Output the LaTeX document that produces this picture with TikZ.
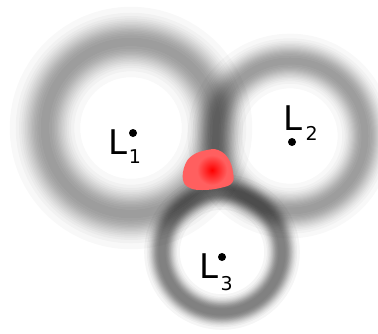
\documentclass[tikz,border=0pt]{standalone}
\usepackage{fontspec}
\setmainfont{DejaVu Sans}
\definecolor{blobred}{RGB}{255,95,95}
\newcommand\blurring[6]{% x, y, radius, core width, sigma, opacity per stroke
  \foreach \k in {0,...,15}{%
    \pgfmathsetmacro\lw{#4+2*#5*sqrt(-2*ln(1-(\k+0.5)/16))}%
    \draw[black, draw opacity=#6, line width=\lw pt] (#1,#2) circle[radius=#3];
  }%
}
\begin{document}
\begin{tikzpicture}[x=1pt,y=-1pt,
  lab/.style={anchor=base west, inner sep=0pt, outer sep=0pt, font=\fontsize{34}{34}\selectfont},
  sublab/.style={anchor=base west, inner sep=0pt, outer sep=0pt, font=\fontsize{19}{19}\selectfont},
  dotpt/.style={circle, fill=black, inner sep=0pt, minimum size=8pt}]
\fill[white] (0,0) rectangle (378,333);
\useasboundingbox (0,0) rectangle (378,333);
% blurred rings
\blurring{131}{128}{86}{2}{13}{0.027}
\blurring{290}{136}{75}{2}{10}{0.027}
\blurring{222}{252}{60}{4}{6}{0.04}
% red blob
\fill[blobred] plot[smooth cycle, tension=0.7] coordinates {(185,165) (193,155) (207,150) (218,150) (228,158) (233,172) (232,183) (220,188) (203,190) (190,188) (183,180)};
\shade[inner color=red, outer color=blobred] (212,170) circle[radius=15];
% points and labels
\node[dotpt] (p1) at (133,133) {};
\node[dotpt] (p2) at (292,142) {};
\node[dotpt] (p3) at (222,257) {};
\node[lab] (l1) at (108.7,154) {L};
\node[sublab] (s1) at (128.9,163) {1};
\node[lab] (l2) at (283.7,130) {L};
\node[sublab] (s2) at (305.6,140) {2};
\node[lab] (l3) at (199.7,278) {L};
\node[sublab] (s3) at (220.5,290) {3};
\end{tikzpicture}
\end{document}
